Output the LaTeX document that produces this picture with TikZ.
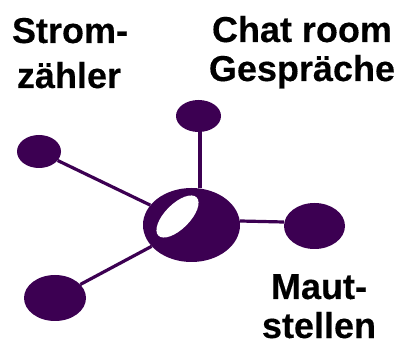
\documentclass[tikz,border=0pt]{standalone}
\usepackage{fontspec}
\setmainfont{Liberation Sans}
\newfontfamily\lblfont[FakeBold=0.3]{Liberation Sans Bold}
\usetikzlibrary{shapes.geometric}
\definecolor{hubpurple}{RGB}{60,0,82}
\tikzset{
  blob/.style={ellipse, fill=hubpurple, draw=none, inner sep=0pt},
  edge/.style={draw=hubpurple, line width=3.2pt},
  lbl/.style={anchor=base, inner sep=0pt, text depth=0pt, font=\lblfont\fontsize{36}{40}\selectfont}
}
\begin{document}
\begin{tikzpicture}[x=1pt,y=-1pt]
\useasboundingbox (0,0) rectangle (400,345);
% nodes
\node[blob, minimum width=97pt, minimum height=74pt] (c) at (191.5,225) {};
\node[blob, minimum width=45pt, minimum height=32pt] (t) at (198.5,116) {};
\node[blob, minimum width=44pt, minimum height=33pt] (lt) at (39,151.5) {};
\node[blob, minimum width=61pt, minimum height=46pt] (r) at (314.5,226) {};
\node[blob, minimum width=62pt, minimum height=46pt] (lb) at (55,298) {};
\node[ellipse, fill=white, inner sep=0pt, minimum width=54pt, minimum height=25pt, rotate=45] (hole) at (177.5,216.5) {};
% connectors
\draw[edge] ([xshift=1.5pt]t.south) -- ([xshift=1.5pt]t.south |- c.north);
\draw[edge] (c) -- (lt);
\draw[edge] (c) -- (lb);
\draw[edge] ([yshift=4pt]c.east) -- ([yshift=4pt]r.west);
% labels
\node[lbl] (s1) at (70,43) {Strom-};
\node[lbl] (s2) at (69,88) {zähler};
\node[lbl] (c1) at (302,42) {Chat room};
\node[lbl] (c2) at (302,81) {Gespräche};
\node[lbl] (m1) at (319,299) {Maut-};
\node[lbl] (m2) at (319,338) {stellen};
\end{tikzpicture}
\end{document}
